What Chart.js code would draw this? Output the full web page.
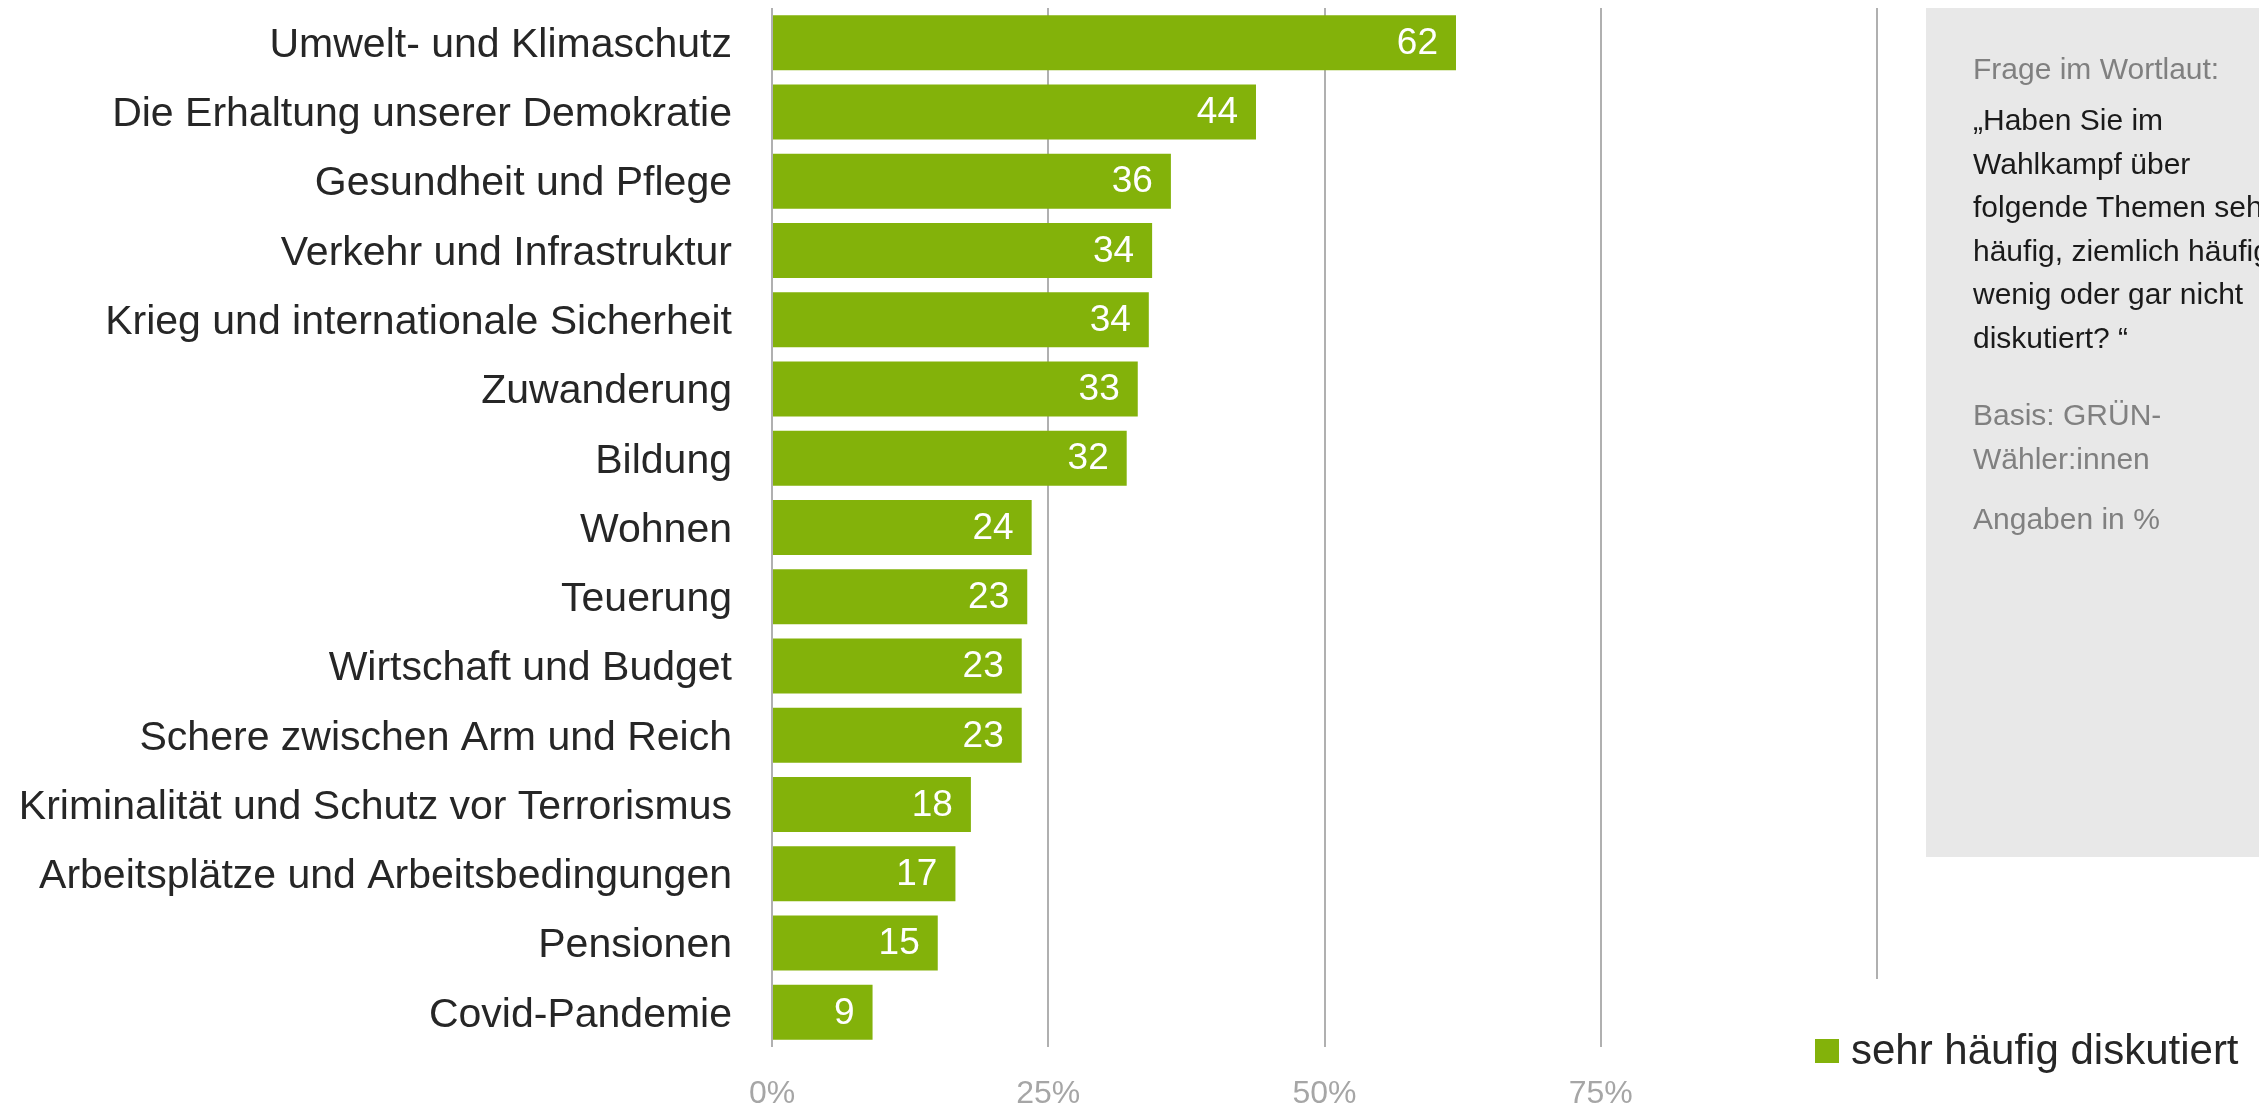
<!DOCTYPE html>
<html>
<head>
<meta charset="utf-8">
<script src="https://cdn.jsdelivr.net/npm/chart.js@4.4.1/dist/chart.umd.min.js"></script>
<style>
  body { margin: 0; background: #fff; overflow: hidden; width: 2259px; height: 1111px; position: relative; font-family: "Liberation Sans", Arial, sans-serif; }
  #chart { position: absolute; left: 0; top: 0; z-index: 2; }
  .panel { position: absolute; left: 1926px; top: 8px; width: 333px; height: 849px; background: #e8e8e8; z-index: 1; }
  .note { position: absolute; left: 1973px; font-size: 30px; line-height: 43.5px; white-space: nowrap; z-index: 3; }
  .grey { color: #808080; }
  .dark { color: #1a1a1a; }
</style>
</head>
<body>
<div class="panel"></div>
<div class="note grey" style="top:47px">Frage im Wortlaut:</div>
<div class="note dark" style="top:98px">„Haben Sie im<br>Wahlkampf über<br>folgende Themen sehr<br>häufig, ziemlich häufig,<br>wenig oder gar nicht<br>diskutiert? “</div>
<div class="note grey" style="top:393px">Basis: GRÜN-<br>Wähler:innen</div>
<div class="note grey" style="top:497px">Angaben in %</div>
<canvas id="chart" width="2259" height="1111"></canvas>
<script>
// Themen (von oben nach unten)
var themen = [
    "Umwelt- und Klimaschutz",
    "Die Erhaltung unserer Demokratie",
    "Gesundheit und Pflege",
    "Verkehr und Infrastruktur",
    "Krieg und internationale Sicherheit",
    "Zuwanderung",
    "Bildung",
    "Wohnen",
    "Teuerung",
    "Wirtschaft und Budget",
    "Schere zwischen Arm und Reich",
    "Kriminalität und Schutz vor Terrorismus",
    "Arbeitsplätze und Arbeitsbedingungen",
    "Pensionen",
    "Covid-Pandemie"
];
// bar lengths
var sehrHaeufig = [61.9, 43.8, 36.1, 34.4, 34.1, 33.1, 32.1, 23.5, 23.1, 22.6, 22.6, 18.0, 16.6, 15.0, 9.1];
// numbers printed in the bars
var wertLabels = [62, 44, 36, 34, 34, 33, 32, 24, 23, 23, 23, 18, 17, 15, 9];
var xTicks = [0, 25, 50, 75, 100];
var serienName = "sehr häufig diskutiert";

var gruen = "#83b20a";
var FONT = "'Liberation Sans', Arial, sans-serif";

// white numbers at the end of each bar
var valuePlugin = {
    id: "valueLabels",
    afterDatasetsDraw: function (chart) {
        var ctx = chart.ctx;
        var meta = chart.getDatasetMeta(0);
        ctx.save();
        ctx.fillStyle = "#ffffff";
        ctx.font = "37px " + FONT;
        ctx.textAlign = "right";
        ctx.textBaseline = "middle";
        meta.data.forEach(function (bar, i) {
            ctx.fillText(String(wertLabels[i]), bar.x - 18, bar.y + 1);
        });
        ctx.restore();
    }
};

// shorter 100% line and the legend bottom right
var extrasPlugin = {
    id: "extras",
    beforeDatasetsDraw: function (chart) {
        var ctx = chart.ctx;
        var x = Math.round(chart.scales.x.getPixelForValue(100));
        ctx.save();
        ctx.strokeStyle = "#b0b0b0";
        ctx.lineWidth = 2;
        ctx.beginPath();
        ctx.moveTo(x, chart.chartArea.top);
        ctx.lineTo(x, 979);
        ctx.stroke();
        ctx.restore();
    },
    afterDraw: function (chart) {
        var ctx = chart.ctx;
        var ds = chart.data.datasets[0];
        ctx.save();
        ctx.fillStyle = ds.backgroundColor;
        ctx.fillRect(1815, 1039, 24, 24);
        ctx.fillStyle = "#262626";
        ctx.font = "42px " + FONT;
        ctx.textAlign = "left";
        ctx.textBaseline = "middle";
        ctx.fillText(ds.label, 1851, 1052);
        ctx.restore();
    }
};

var chart = new Chart(document.getElementById("chart"), {
    type: "bar",
    data: {
        labels: themen,
        datasets: [{
            label: serienName,
            data: sehrHaeufig,
            backgroundColor: gruen,
            borderWidth: 0,
            categoryPercentage: 1.0,
            barPercentage: 0.794
        }]
    },
    options: {
        indexAxis: "y",
        responsive: false,
        animation: false,
        devicePixelRatio: 1,
        layout: { padding: { top: 8, right: 382, bottom: 0, left: 0 } },
        plugins: {
            legend: { display: false },
            tooltip: { enabled: false }
        },
        scales: {
            x: {
                min: 0,
                max: 100,
                afterBuildTicks: function (scale) {
                    scale.ticks = xTicks.map(function (v) { return { value: v }; });
                },
                afterFit: function (scale) { scale.height = 64; },
                border: { display: false },
                grid: {
                    drawTicks: false,
                    lineWidth: 2,
                    color: function (c) {
                        return c.tick && c.tick.value === 100 ? "rgba(0,0,0,0)" : "#b0b0b0";
                    }
                },
                ticks: {
                    padding: 28,
                    color: "#a6a6a6",
                    font: { family: FONT, size: 32 },
                    callback: function (v) { return v === 100 ? "" : v + "%"; }
                }
            },
            y: {
                afterFit: function (scale) {
                    scale.width = 772;
                    // labels sit beside the bars, they need no room above or below
                    scale.paddingTop = 0;
                    scale.paddingBottom = 0;
                },
                border: { display: false },
                grid: { display: false, drawTicks: false },
                ticks: {
                    padding: 40,
                    labelOffset: 3,
                    color: "#262626",
                    font: { family: FONT, size: 41 }
                }
            }
        }
    },
    plugins: [valuePlugin, extrasPlugin]
});
</script>
</body>
</html>
